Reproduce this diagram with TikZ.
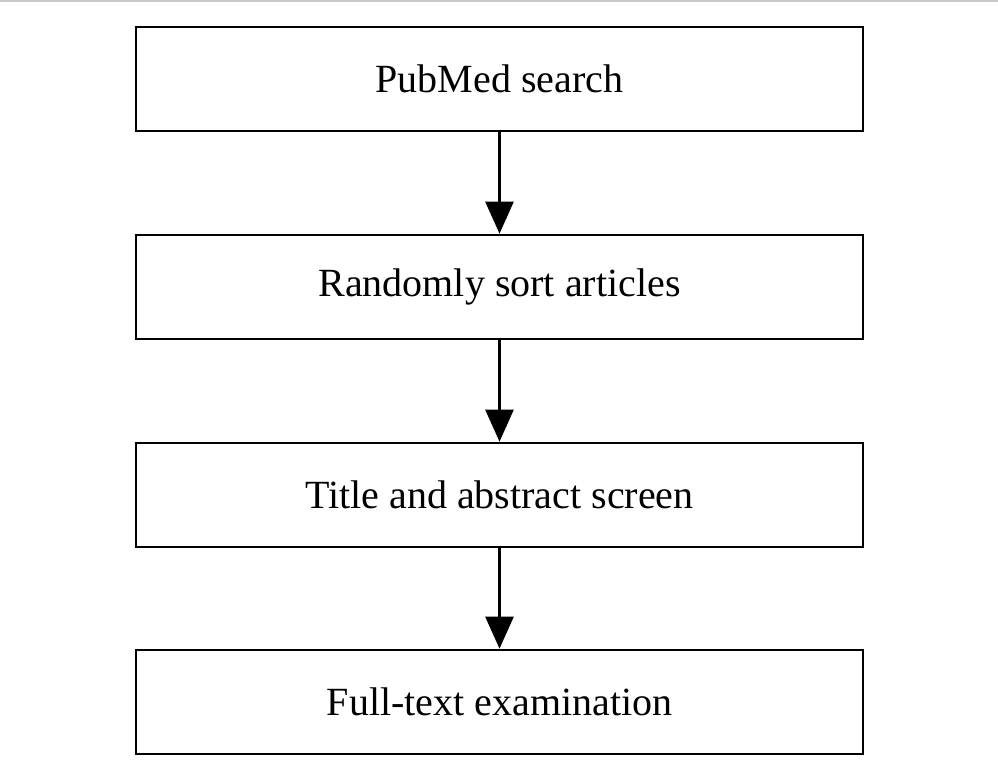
\documentclass[tikz,border=0pt]{standalone}
\usepackage{fontspec}
\setmainfont{Liberation Serif}
\usetikzlibrary{arrows.meta}
\begin{document}
\begin{tikzpicture}[x=1pt,y=-1pt,
  stepbox/.style={draw=black,line width=2.6pt,minimum width=727pt,minimum height=104pt,inner sep=0pt,font=\fontsize{40}{48}\selectfont},
  flow/.style={line width=2.6pt,-{Triangle[width=28pt,length=32pt]}}]
\useasboundingbox (0,0) rectangle (998,778);
\fill[white] (0,0) rectangle (998,778);
\draw[line width=2pt,color={rgb,255:red,200;green,200;blue,200}] (0,1) -- (998,1);
\node[stepbox] (a) at (499.5,79) {PubMed search};
\node[stepbox] (b) at (499.5,287) {Randomly sort articles};
\node[stepbox] (c) at (499.5,495) {Title and abstract screen};
\node[stepbox] (d) at (499.5,702) {Full-text examination};
\draw[flow] (a) -- (b);
\draw[flow] (b) -- (c);
\draw[flow] (c) -- (d);
\end{tikzpicture}
\end{document}
